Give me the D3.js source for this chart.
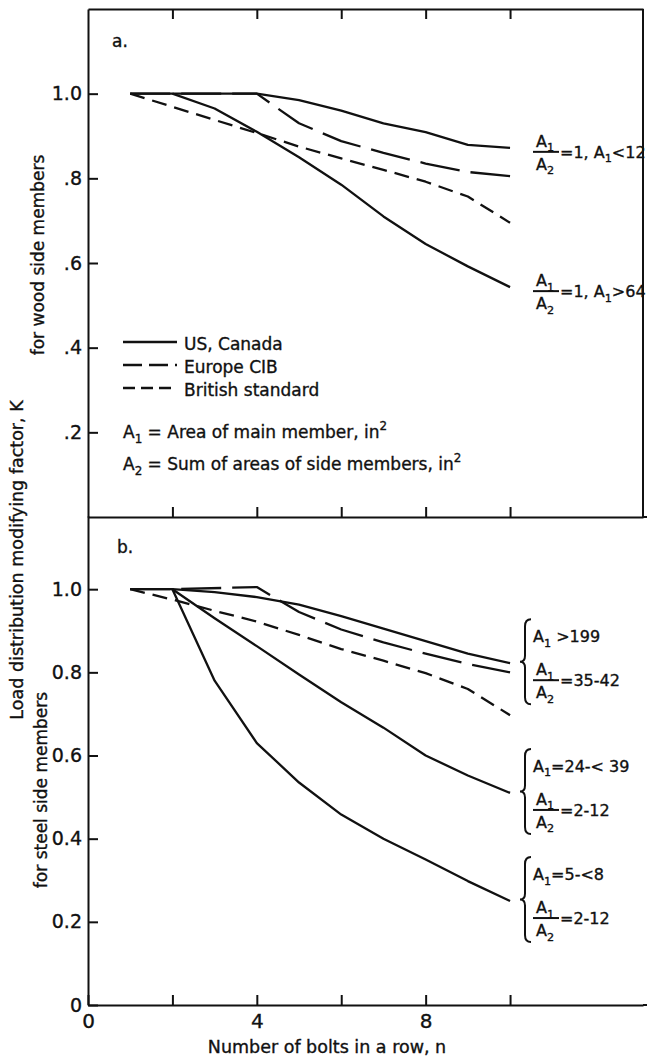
<!DOCTYPE html>
<html>
<head>
<meta charset="utf-8">
<script src="https://cdn.jsdelivr.net/npm/d3@7"></script>
<style>
  body { margin: 0; background: #fff; }
  text { font-family: "DejaVu Sans", sans-serif; fill: #111; stroke: #111; stroke-width: 0.35px; }
</style>
</head>
<body>
<svg id="chart" width="647" height="1059"></svg>
<script>
// --- data: load distribution factor K vs number of bolts n ---
// a. wood side members
const woodUsSmallA1 = [[1, 1.0], [2, 1.0], [3, 1.0], [4, 1.0], [5, 0.985], [6, 0.96], [7, 0.93], [8, 0.909], [9, 0.879], [10, 0.872]];
const woodUsLargeA1 = [[2, 1.0], [3, 0.965], [4, 0.91], [5, 0.85], [6, 0.785], [7, 0.71], [8, 0.645], [9, 0.592], [10, 0.543]];
const woodCib = [[1, 1.0], [4, 1.0], [5, 0.93], [6, 0.888], [7, 0.86], [8, 0.835], [9, 0.815], [10, 0.805]];
const woodBs = [[1, 1.0], [2, 0.969], [3, 0.938], [4, 0.907], [5, 0.875], [6, 0.847], [7, 0.82], [8, 0.792], [9, 0.757], [10, 0.695]];

// b. steel side members
const steelUsLargeA1 = [[1, 1.0], [2, 1.0], [3, 0.993], [4, 0.981], [5, 0.963], [6, 0.935], [7, 0.905], [8, 0.875], [9, 0.845], [10, 0.822]];
const steelUsMidA1 = [[2, 1.0], [3, 0.93], [4, 0.863], [5, 0.795], [6, 0.728], [7, 0.667], [8, 0.6], [9, 0.552], [10, 0.51]];
const steelUsSmallA1 = [[2, 1.0], [3, 0.78], [4, 0.63], [5, 0.535], [6, 0.458], [7, 0.4], [8, 0.35], [9, 0.298], [10, 0.25]];
const steelCib = [[1, 1.0], [2, 1.0], [4, 1.005], [5, 0.945], [6, 0.903], [7, 0.872], [8, 0.845], [9, 0.82], [10, 0.80]];
const steelBs = [[1, 1.0], [2, 0.975], [3, 0.948], [4, 0.922], [5, 0.89], [6, 0.856], [7, 0.828], [8, 0.798], [9, 0.76], [10, 0.697]];

// ticks and labels
const xTicks = [2, 4, 6, 8, 10];
const xLabelled = [0, 4, 8];
const kTicks = [0.2, 0.4, 0.6, 0.8, 1.0];
const legendNames = ["US, Canada", "Europe CIB", "British standard"];
const legendKinds = ["us", "cib", "bs"];
const notes = ["A_1 = Area of main member, in^2", "A_2 = Sum of areas of side members, in^2"];
const woodRatios = ["=1, A_1<12", "=1, A_1>64"];
const steelAreas = ["A_1 >199", "A_1=24-< 39", "A_1=5-<8"];
const steelRatios = ["=35-42", "=2-12", "=2-12"];

const ink = "#111";
const dashes = { us: null, cib: "40,11", bs: "15,8" };
const legendDashes = { us: null, cib: "19,7", bs: "12,6" };

const svg = d3.select("#chart");

const x = d3.scaleLinear().domain([0, 13.15]).range([88, 643]);
const yTop = d3.scaleLinear().domain([0, 1.2]).range([517, 9]);
const yBot = d3.scaleLinear().domain([0, 1.176]).range([1005, 516]);

// text with _x subscripts and ^x superscripts
function rich(sel, str, fs) {
    const parts = str.split(/([_^].)/).filter(s => s !== "");
    let off = 0;
    parts.forEach(p => {
        if (p.length === 2 && (p[0] === "_" || p[0] === "^")) {
            const shift = p[0] === "_" ? 0.28 * fs : -0.45 * fs;
            sel.append("tspan").attr("dy", shift - off).attr("font-size", fs * 0.7).text(p[1]);
            off = shift;
        } else {
            sel.append("tspan").attr("dy", -off).text(p);
            off = 0;
        }
    });
    return sel;
}

function styleAxis(g, fs) {
    g.attr("font-family", null).attr("font-size", fs);
    g.selectAll("path, line").attr("stroke", ink).attr("stroke-width", 2);
    g.selectAll("text").attr("fill", ink);
}

// --- axes, panel a ---
svg.append("g").attr("transform", "translate(0,9)")
    .call(d3.axisTop(x).tickValues(xTicks).tickSizeInner(-10).tickSizeOuter(0).tickFormat(""))
    .call(styleAxis, 19);
svg.append("line").attr("x1", x.range()[1]).attr("x2", x.range()[1])
    .attr("y1", yTop.range()[1]).attr("y2", yTop.range()[0])
    .attr("stroke", ink).attr("stroke-width", 2);
svg.append("g").attr("transform", `translate(0,${yTop(0)})`)
    .call(d3.axisBottom(x).tickValues(xTicks).tickSizeInner(-10).tickSizeOuter(0).tickFormat(""))
    .call(styleAxis, 19);
svg.append("g").attr("transform", `translate(${x(0)},0)`)
    .call(d3.axisLeft(yTop).tickValues(kTicks).tickSizeInner(-10).tickSizeOuter(0).tickPadding(6)
        .tickFormat(d => d === 1 ? "1.0" : d3.format(".1f")(d).slice(1)))
    .call(styleAxis, 19);

// --- axes, panel b ---
svg.append("g").attr("transform", `translate(${x(0)},0)`)
    .call(d3.axisLeft(yBot).tickValues([0].concat(kTicks)).tickSizeInner(-10).tickSizeOuter(0).tickPadding(6)
        .tickFormat(d => d === 0 ? "0" : d3.format(".1f")(d)))
    .call(styleAxis, 19);
svg.append("g").attr("transform", `translate(0,${yBot(0)})`)
    .call(d3.axisBottom(x).tickValues([0].concat(xTicks)).tickSizeInner(-10).tickSizeOuter(0).tickPadding(9)
        .tickFormat(d => xLabelled.includes(d) ? d : ""))
    .call(styleAxis, 20);
// the baseline and separator run on to the page edge
[yTop(0), yBot(0)].forEach(yy => {
    svg.append("line").attr("x1", x.range()[1]).attr("x2", 647).attr("y1", yy).attr("y2", yy)
        .attr("stroke", ink).attr("stroke-width", 2);
});

// --- curves ---
function drawLines(data, y) {
    const line = d3.line().x(d => x(d[0])).y(d => y(d[1]));
    svg.append("g").selectAll("path")
        .data(data)
        .join("path")
        .attr("d", d => line(d[0]))
        .attr("fill", "none")
        .attr("stroke", ink)
        .attr("stroke-width", 2.3)
        .attr("stroke-linejoin", "round")
        .attr("stroke-dasharray", d => dashes[d[1]]);
}
drawLines([[woodCib, "cib"], [woodBs, "bs"], [woodUsSmallA1, "us"], [woodUsLargeA1, "us"]], yTop);
drawLines([[steelCib, "cib"], [steelBs, "bs"], [steelUsLargeA1, "us"], [steelUsMidA1, "us"], [steelUsSmallA1, "us"]], yBot);

// --- panel letters ---
svg.append("text").attr("x", 112).attr("y", 47).attr("font-size", 17).text("a.");
svg.append("text").attr("x", 117).attr("y", 553).attr("font-size", 17).text("b.");

// --- legend ---
const legend = svg.append("g").selectAll("g")
    .data(legendNames)
    .join("g")
    .attr("transform", (d, i) => `translate(123,${342 + i * 23})`);
legend.append("line")
    .attr("x1", 0).attr("x2", 54)
    .attr("stroke", ink).attr("stroke-width", 2.3)
    .attr("stroke-dasharray", (d, i) => legendDashes[legendKinds[i]]);
legend.append("text").attr("x", 61).attr("y", 8).attr("font-size", 17).text(d => d);

notes.forEach((t, i) => {
    rich(svg.append("text").attr("x", 123).attr("y", 438 + i * 32).attr("font-size", 17), t, 17);
});

// --- right-hand labels ---
const labFs = 16;
function fraction(bx, barY, ratio) {
    const g = svg.append("g");
    g.append("line").attr("x1", bx).attr("x2", bx + 26).attr("y1", barY).attr("y2", barY)
        .attr("stroke", ink).attr("stroke-width", 2);
    rich(g.append("text").attr("x", bx + 12).attr("y", barY - 5).attr("text-anchor", "middle").attr("font-size", labFs), "A_1", labFs);
    rich(g.append("text").attr("x", bx + 12).attr("y", barY + 18).attr("text-anchor", "middle").attr("font-size", labFs), "A_2", labFs);
    rich(g.append("text").attr("x", bx + 27).attr("y", barY + 6).attr("font-size", labFs), ratio, labFs);
}

[woodUsSmallA1, woodUsLargeA1].forEach((s, i) => {
    const ye = yTop(s[s.length - 1][1]);
    fraction(533, ye + 4, woodRatios[i]);
});

function brace(bx, y1, y2) {
    const ym = (y1 + y2) / 2;
    const p = d3.path();
    p.moveTo(bx + 6, y1);
    p.quadraticCurveTo(bx, y1, bx, y1 + 7);
    p.lineTo(bx, ym - 6);
    p.quadraticCurveTo(bx, ym, bx - 5, ym);
    p.quadraticCurveTo(bx, ym, bx, ym + 6);
    p.lineTo(bx, y2 - 7);
    p.quadraticCurveTo(bx, y2, bx + 6, y2);
    svg.append("path").attr("d", p.toString()).attr("fill", "none")
        .attr("stroke", ink).attr("stroke-width", 2);
}

[steelUsLargeA1, steelUsMidA1, steelUsSmallA1].forEach((s, i) => {
    const ye = yBot(s[s.length - 1][1]);
    brace(525, ye - 44, ye + 41);
    rich(svg.append("text").attr("x", 533).attr("y", ye - 21).attr("font-size", labFs), steelAreas[i], labFs);
    fraction(533, ye + 17, steelRatios[i]);
});

// --- axis titles ---
svg.append("text")
    .attr("transform", "translate(23,560) rotate(-90)")
    .attr("text-anchor", "middle").attr("font-size", 17.5)
    .text("Load distribution modifying factor, K");
svg.append("text")
    .attr("transform", "translate(44,255) rotate(-90)")
    .attr("text-anchor", "middle").attr("font-size", 17)
    .text("for wood side members");
svg.append("text")
    .attr("transform", "translate(47,790) rotate(-90)")
    .attr("text-anchor", "middle").attr("font-size", 17)
    .text("for steel side members");
svg.append("text")
    .attr("x", 327).attr("y", 1053)
    .attr("text-anchor", "middle").attr("font-size", 17.5)
    .text("Number of bolts in a row, n");
</script>
</body>
</html>
